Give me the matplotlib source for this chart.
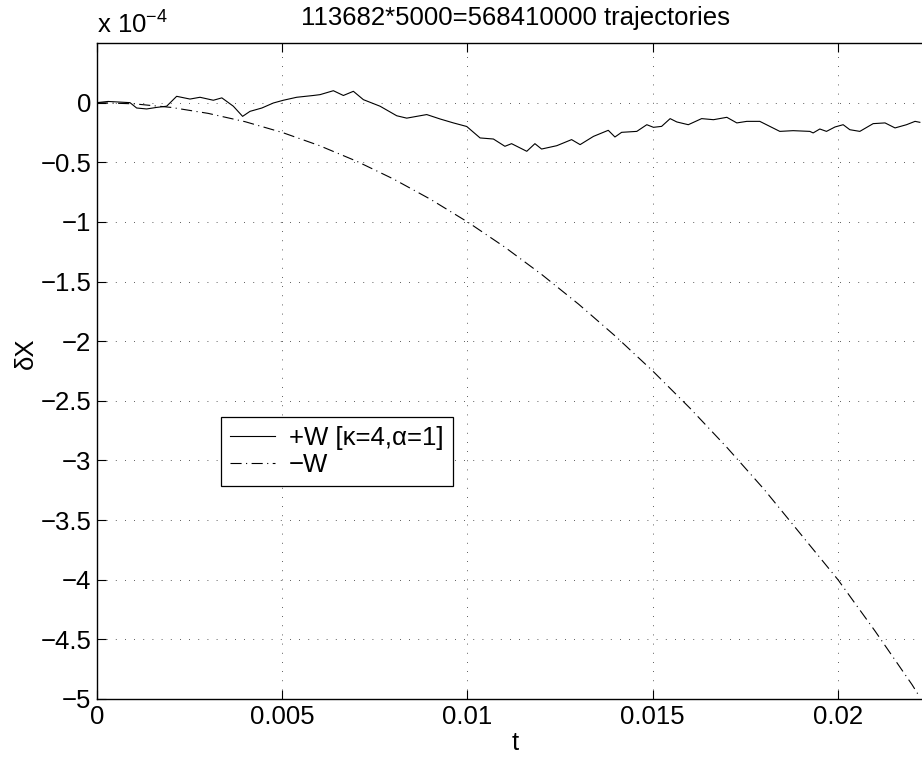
import numpy as np
import matplotlib
matplotlib.use("Agg")
import matplotlib.pyplot as plt

plt.rcParams['font.family'] = ['Liberation Sans', 'DejaVu Sans']
plt.rcParams['mathtext.fontset'] = 'custom'
plt.rcParams['mathtext.rm'] = 'Liberation Sans'
plt.rcParams['mathtext.it'] = 'Liberation Sans:italic'

# +W [kappa=4, alpha=1]  (dX in units of 1e-4)
t_plus = [0.0, 0.0003, 0.00089, 0.00107, 0.00134, 0.00161, 0.00188, 0.00215, 0.00251,
          0.00278, 0.00314, 0.00337, 0.00368, 0.00393, 0.00413, 0.00445, 0.00476,
          0.00503, 0.00539, 0.00584, 0.00602, 0.00638, 0.00665, 0.00692, 0.00719,
          0.00764, 0.00809, 0.00836, 0.0089, 0.00926, 0.00962, 0.00998, 0.01034,
          0.0107, 0.01101, 0.01119, 0.0116, 0.01182, 0.012, 0.01241, 0.01281,
          0.01304, 0.0134, 0.0138, 0.01398, 0.01416, 0.01457, 0.01484, 0.01502,
          0.01524, 0.01547, 0.01565, 0.01596, 0.01632, 0.01664, 0.017, 0.01727,
          0.01754, 0.01789, 0.01816, 0.01843, 0.01879, 0.01924, 0.01933, 0.01951,
          0.01969, 0.01992, 0.02014, 0.02032, 0.02059, 0.02095, 0.02127, 0.02154,
          0.02185, 0.02208, 0.02221]
dx_plus = [0.0, 0.01, 0.0, -0.045, -0.053, -0.04, -0.03, 0.053, 0.03,
           0.045, 0.02, 0.04, -0.03, -0.115, -0.073, -0.045, -0.003,
           0.02, 0.045, 0.06, 0.067, 0.10, 0.06, 0.095, 0.025,
           -0.03, -0.11, -0.13, -0.10, -0.137, -0.17, -0.20, -0.296,
           -0.305, -0.366, -0.344, -0.408, -0.344, -0.389, -0.361, -0.31,
           -0.352, -0.283, -0.232, -0.288, -0.249, -0.241, -0.185, -0.207,
           -0.199, -0.134, -0.162, -0.185, -0.134, -0.143, -0.123, -0.17,
           -0.157, -0.157, -0.199, -0.241, -0.235, -0.241, -0.254, -0.221,
           -0.241, -0.204, -0.185, -0.227, -0.241, -0.176, -0.17, -0.212,
           -0.185, -0.157, -0.165]

# -W
t_minus = [0.0, 0.001, 0.002, 0.003, 0.004, 0.005, 0.006, 0.007, 0.008, 0.009,
           0.010, 0.011, 0.012, 0.013, 0.014, 0.015, 0.016, 0.017, 0.018, 0.019,
           0.020, 0.021, 0.022, 0.0222]
dx_minus = [0.0, -0.01, -0.04, -0.09, -0.16, -0.25, -0.36, -0.49, -0.64, -0.81,
            -1.00, -1.21, -1.44, -1.69, -1.96, -2.25, -2.56, -2.89, -3.24, -3.62,
            -4.00, -4.43, -4.88, -4.98]

xticks = [0, 0.005, 0.01, 0.015, 0.02]
xticklabels = ['0', '0.005', '0.01', '0.015', '0.02']
yticks = [-5, -4.5, -4, -3.5, -3, -2.5, -2, -1.5, -1, -0.5, 0]
yticklabels = ['\u22125', '\u22124.5', '\u22124', '\u22123.5', '\u22123', '\u22122.5',
               '\u22122', '\u22121.5', '\u22121', '\u22120.5', '0']

FS = 18.5
W, H = 922, 764
fig = plt.figure(figsize=(W / 100, H / 100), dpi=100)
x_right = 934.3
ax = fig.add_axes([97 / W, 1 - 699 / H, (x_right - 97) / W, (699 - 43) / H])

ax.plot(t_plus, dx_plus, color='k', lw=0.8, label='+W [\u03ba=4,\u03b1=1]')
ax.plot(t_minus, dx_minus, color='k', lw=0.8, linestyle=(0, (10, 4, 1, 4)),
        label='\u2212W')

ax.set_xlim(0, 0.0226)
ax.set_ylim(-5, 0.5)
ax.set_xticks(xticks)
ax.set_xticklabels(xticklabels)
ax.set_yticks(yticks)
ax.set_yticklabels(yticklabels)
ax.tick_params(direction='in', length=6.5, width=0.8, labelsize=FS, top=True,
               right=False, color='k')
ax.tick_params(axis='x', pad=4)
ax.tick_params(axis='y', pad=4)
ax.grid(True, color='0.15', linestyle=(0, (1, 10)), lw=0.6)
ax.spines['right'].set_visible(False)
for s in ['left', 'bottom', 'top']:
    ax.spines[s].set_linewidth(1.0)

ax.set_title('113682*5000=568410000 trajectories', fontsize=FS, pad=13)
ax.set_xlabel('t', fontsize=FS, labelpad=2)
ax.set_ylabel('\u03b4X', fontsize=FS)
ax.yaxis.set_label_coords(-0.0705, 0.527)

fig.text(97 / W, 1 - 34 / H, r'x 10$^{\mathrm{-4}}$', fontsize=FS, ha='left',
         va='baseline')

leg = ax.legend(loc='upper left', bbox_to_anchor=(221 / W, 1 - 417 / H),
                bbox_transform=fig.transFigure, borderaxespad=0, fontsize=FS,
                handlelength=1.75, handletextpad=0.55, borderpad=0.35,
                labelspacing=0.12, fancybox=False, framealpha=1,
                edgecolor='k')
leg.get_frame().set_linewidth(0.9)

fig.savefig('out.png', dpi=100)
